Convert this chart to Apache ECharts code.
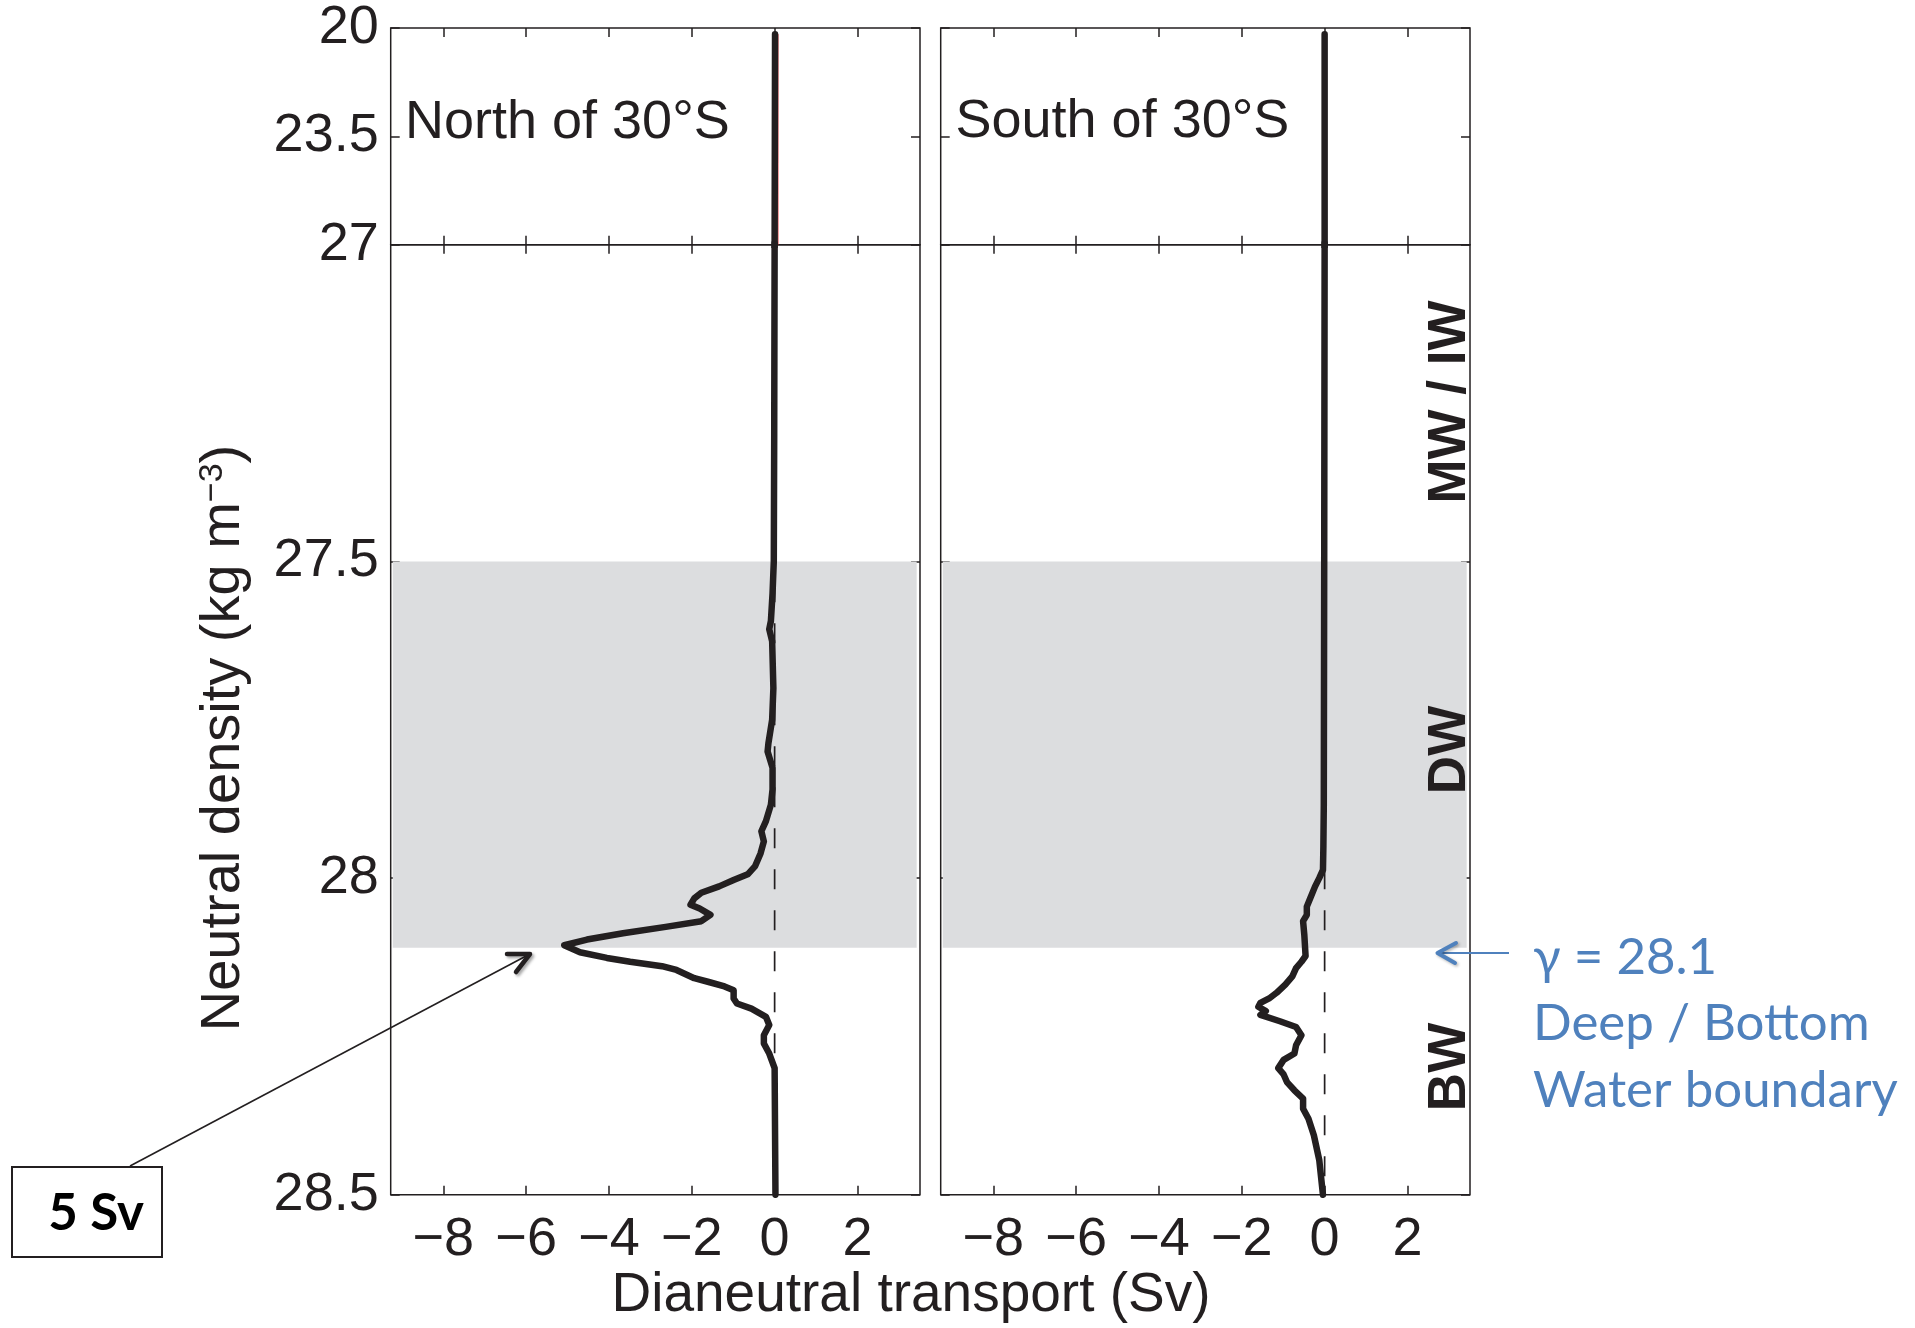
<!DOCTYPE html>
<html>
<head>
<meta charset="utf-8">
<script src="https://cdn.jsdelivr.net/npm/echarts@6/dist/echarts.min.js"></script>
<style>
html,body{margin:0;padding:0;background:#fff;}
#chart{width:1915px;height:1328px;}
</style>
</head>
<body>
<div id="chart"></div>
<script>
// ---------------- data ----------------
const xTicks = [-8, -6, -4, -2, 0, 2];
const yTicksTop = [20, 23.5, 27];
const yTicksBottom = [27, 27.5, 28, 28.5];
const yLabelsTop = [20, 23.5, 27];
const yLabelsBottom = [27.5, 28, 28.5];

// North of 30°S : neutral density (kg m-3) and dianeutral transport (Sv)
const densNorth = [20.2, 27.0, 27.3, 27.5, 27.55, 27.594, 27.607, 27.626, 27.70, 27.75, 27.787, 27.80, 27.826, 27.86, 27.884, 27.91, 27.926, 27.942, 27.961, 27.981, 27.994, 28.003, 28.013, 28.023, 28.032, 28.042, 28.048, 28.058, 28.068, 28.077, 28.087, 28.097, 28.106, 28.117, 28.126, 28.132, 28.139, 28.145, 28.158, 28.164, 28.171, 28.177, 28.19, 28.198, 28.206, 28.219, 28.232, 28.248, 28.261, 28.277, 28.30, 28.5];
const transNorth = [0.01, 0.0, -0.01, -0.02, -0.05, -0.09, -0.13, -0.06, -0.03, -0.06, -0.15, -0.17, -0.05, -0.05, -0.09, -0.21, -0.32, -0.26, -0.34, -0.47, -0.65, -0.99, -1.34, -1.77, -1.94, -2.03, -1.81, -1.55, -1.77, -2.63, -3.66, -4.53, -5.08, -4.70, -4.05, -3.49, -2.72, -2.37, -1.94, -1.59, -1.21, -0.99, -0.99, -0.91, -0.56, -0.21, -0.13, -0.26, -0.26, -0.13, 0.0, 0.02];

// South of 30°S
const densSouth = [20.2, 27.0, 27.5, 27.884, 27.95, 27.987, 28.0, 28.013, 28.032, 28.045, 28.058, 28.068, 28.09, 28.123, 28.132, 28.142, 28.155, 28.168, 28.181, 28.19, 28.197, 28.203, 28.21, 28.216, 28.226, 28.235, 28.248, 28.264, 28.277, 28.287, 28.30, 28.31, 28.322, 28.335, 28.348, 28.364, 28.38, 28.406, 28.445, 28.5];
const transSouth = [0.0, 0.0, -0.01, -0.02, -0.03, -0.04, -0.13, -0.23, -0.35, -0.43, -0.43, -0.52, -0.49, -0.46, -0.56, -0.69, -0.78, -0.95, -1.16, -1.34, -1.55, -1.60, -1.42, -1.55, -1.08, -0.69, -0.56, -0.69, -0.73, -0.99, -1.12, -0.99, -0.91, -0.73, -0.52, -0.52, -0.39, -0.26, -0.13, -0.04];

// thin red profile visible beside the black one in the upper north panel
const redDens = [20.2, 27.0];
const redTrans = [0.08, 0.08];

// zero reference line
const zeroDens = [27, 28.5];
const zeroTrans = [0, 0];

// deep-water band (density range) and its horizontal extent
const deepBand = [27.5, 28.11];
const bandTrans = [-9.22, 3.43];

const panelTitles = ['North of 30°S', 'South of 30°S'];
const waterMasses = ['MW / IW', 'DW', 'BW'];

// ---------------- style / layout ----------------
const INK = '#231f20';
const GRAY = '#dcdddf';
const BLUE = '#4f81bd';
const SANS = '"Liberation Sans", Arial, Helvetica, sans-serif';
const CALI = 'Lato, "Open Sans", sans-serif';
const FS = 54;

const X_MIN = -9.27, X_MAX = 3.51;
const PANEL_LEFT = [390.7, 940.7];
const PANEL_W = 529.3;
const TOP = 28, MID = 244.8, BOT = 1194.8;

function fmtX(v) { return v < 0 ? '\u2212' + Math.abs(v) : String(v); }

function makeX(g, pos, showLabel) {
  return {
    type: 'value', gridIndex: g, position: pos, min: X_MIN, max: X_MAX,
    axisLine: { show: false, onZero: false }, splitLine: { show: false },
    axisTick: { show: true, inside: true, length: 9, customValues: xTicks, lineStyle: { color: INK, width: 1.5 } },
    axisLabel: { show: showLabel, customValues: xTicks, margin: 18, formatter: fmtX,
      fontFamily: SANS, fontSize: FS, color: INK, lineHeight: FS }
  };
}
function makeY(g, pos, showLabel, isTop) {
  return {
    type: 'value', gridIndex: g, position: pos, inverse: true,
    min: isTop ? 20 : 27, max: isTop ? 27 : 28.5,
    axisLine: { show: false, onZero: false }, splitLine: { show: false },
    axisTick: { show: true, inside: true, length: 9, customValues: isTop ? yTicksTop : yTicksBottom, lineStyle: { color: INK, width: 1.5 } },
    axisLabel: { show: showLabel, customValues: isTop ? yLabelsTop : yLabelsBottom, margin: 12,
      padding: [7, 0, 0, 0],
      fontFamily: SANS, fontSize: FS, color: INK, lineHeight: FS }
  };
}

const grids = [], xAxes = [], yAxes = [], series = [];
const profiles = [[densNorth, transNorth], [densSouth, transSouth]];

for (let p = 0; p < 2; p++) {
  for (let part = 0; part < 2; part++) {
    const g = p * 2 + part;
    const isTop = part === 0;
    grids.push({
      left: PANEL_LEFT[p], width: PANEL_W,
      top: isTop ? TOP : MID, height: isTop ? MID - TOP : BOT - MID,
      show: true, borderColor: INK, borderWidth: 1.5, backgroundColor: 'transparent',
      containLabel: false, outerBoundsMode: 'none'
    });
    xAxes.push(makeX(g, 'bottom', !isTop));
    xAxes.push(makeX(g, 'top', false));
    yAxes.push(makeY(g, 'left', p === 0, isTop));
    yAxes.push(makeY(g, 'right', false, isTop));

    const xi = 2 * g, yi = 2 * g;
    if (!isTop) {
      series.push({
        type: 'custom', xAxisIndex: xi, yAxisIndex: yi, z: 1, silent: true,
        data: [[bandTrans[0], deepBand[0], bandTrans[1], deepBand[1]]],
        encode: { x: [0, 2], y: [1, 3] },
        renderItem: function (params, api) {
          const a = api.coord([api.value(0), api.value(1)]);
          const b = api.coord([api.value(2), api.value(3)]);
          return { type: 'rect', shape: { x: Math.min(a[0], b[0]), y: Math.min(a[1], b[1]),
            width: Math.abs(b[0] - a[0]), height: Math.abs(b[1] - a[1]) }, style: { fill: GRAY } };
        }
      });
      series.push({
        type: 'line', xAxisIndex: xi, yAxisIndex: yi, z: 3, silent: true,
        data: zeroDens.map((d, i) => [zeroTrans[i], d]),
        symbol: 'none', lineStyle: { color: INK, width: 1.7, type: [20, 21], dashOffset: 31.5 }
      });
    }
    if (isTop && p === 0) {
      series.push({
        type: 'line', xAxisIndex: xi, yAxisIndex: yi, z: 4, silent: true,
        data: redDens.map((d, i) => [redTrans[i], d]),
        symbol: 'none', lineStyle: { color: '#e0262b', width: 1 }
      });
    }
    const [dens, trans] = profiles[p];
    series.push({
      type: 'line', xAxisIndex: xi, yAxisIndex: yi, z: 5, silent: true, clip: true,
      data: dens.map((d, i) => [trans[i], d]),
      symbol: 'none', showSymbol: false,
      lineStyle: { color: INK, width: 6.5, cap: 'round', join: 'round' }
    });
  }
}

function txt(x, y, text, opt) {
  const st = Object.assign({
    text: text, fontFamily: SANS, fontSize: FS, fill: INK,
    align: 'left', verticalAlign: 'middle', textAlign: 'left', textVerticalAlign: 'middle'
  }, opt || {});
  if (opt && opt.align) st.textAlign = opt.align;
  if (opt && opt.verticalAlign) st.textVerticalAlign = opt.verticalAlign;
  const el = { type: 'text', x: x, y: y, silent: true, z: 20, style: st };
  if (opt && opt.rot) { el.rotation = opt.rot; delete st.rot; }
  return el;
}

const graphic = [
  // panel titles
  txt(405, 123, panelTitles[0]),
  txt(955.5, 122, panelTitles[1]),
  // axis titles
  txt(911, 1296, 'Dianeutral transport (Sv)', { align: 'center', fontSize: 55 }),
  {
    type: 'text', x: 224, y: 738, rotation: Math.PI / 2, silent: true, z: 20,
    style: {
      text: 'Neutral density (kg m{sup|\u22123})', fontFamily: SANS, fontSize: 56, fill: INK,
      lineHeight: 56, align: 'center', verticalAlign: 'middle', textAlign: 'center', textVerticalAlign: 'middle',
      rich: { sup: { fontFamily: SANS, fontSize: 34, fill: INK, lineHeight: 16, verticalAlign: 'top' } }
    }
  },
  // water mass labels (rotated, bold)
  txt(1450.5, 402, waterMasses[0], { align: 'center', fontWeight: 'bold', fontSize: 53, rot: Math.PI / 2 }),
  txt(1450.5, 750, waterMasses[1], { align: 'center', fontWeight: 'bold', fontSize: 53, rot: Math.PI / 2 }),
  txt(1450.5, 1067, waterMasses[2], { align: 'center', fontWeight: 'bold', fontSize: 53, rot: Math.PI / 2 }),
  // blue boundary annotation
  { type: 'line', silent: true, z: 20, shape: { x1: 1509, y1: 953, x2: 1440, y2: 953 },
    style: { stroke: BLUE, lineWidth: 2 } },
  { type: 'polyline', silent: true, z: 20, shape: { points: [[1456, 943], [1437.5, 953], [1455, 963]] },
    style: { stroke: BLUE, fill: null, lineWidth: 4, lineCap: 'round', lineJoin: 'round',
      shadowBlur: 3, shadowColor: 'rgba(0,0,0,0.3)', shadowOffsetX: 1.5, shadowOffsetY: 1.5 } },
  txt(1533, 958, '\u03b3 = 28.1', { fontFamily: CALI, fontSize: 51, fill: BLUE }),
  txt(1533, 1024, 'Deep / Bottom', { fontFamily: CALI, fontSize: 51, fill: BLUE }),
  txt(1533, 1091, 'Water boundary', { fontFamily: CALI, fontSize: 51, fill: BLUE }),
  // 5 Sv callout
  { type: 'line', silent: true, z: 20, shape: { x1: 130, y1: 1166, x2: 528, y2: 955 },
    style: { stroke: INK, lineWidth: 1.6 } },
  { type: 'polyline', silent: true, z: 20, shape: { points: [[507, 954], [530, 954], [516, 972]] },
    style: { stroke: INK, fill: null, lineWidth: 4.5, lineCap: 'round', lineJoin: 'round',
      shadowBlur: 3, shadowColor: 'rgba(0,0,0,0.35)', shadowOffsetX: 2, shadowOffsetY: 2 } },
  { type: 'rect', silent: true, z: 20, shape: { x: 12, y: 1167, width: 150, height: 90 },
    style: { fill: '#fff', stroke: INK, lineWidth: 2 } },
  txt(96, 1214, '5 Sv', { align: 'center', fontFamily: CALI, fontWeight: 'bold', fontSize: 51, fill: '#000' })
];

const chart = echarts.init(document.getElementById('chart'), null, { renderer: 'canvas' });
chart.setOption({
  animation: false,
  backgroundColor: '#ffffff',
  textStyle: { fontFamily: SANS },
  grid: grids,
  xAxis: xAxes,
  yAxis: yAxes,
  series: series,
  graphic: graphic
});
</script>
</body>
</html>
